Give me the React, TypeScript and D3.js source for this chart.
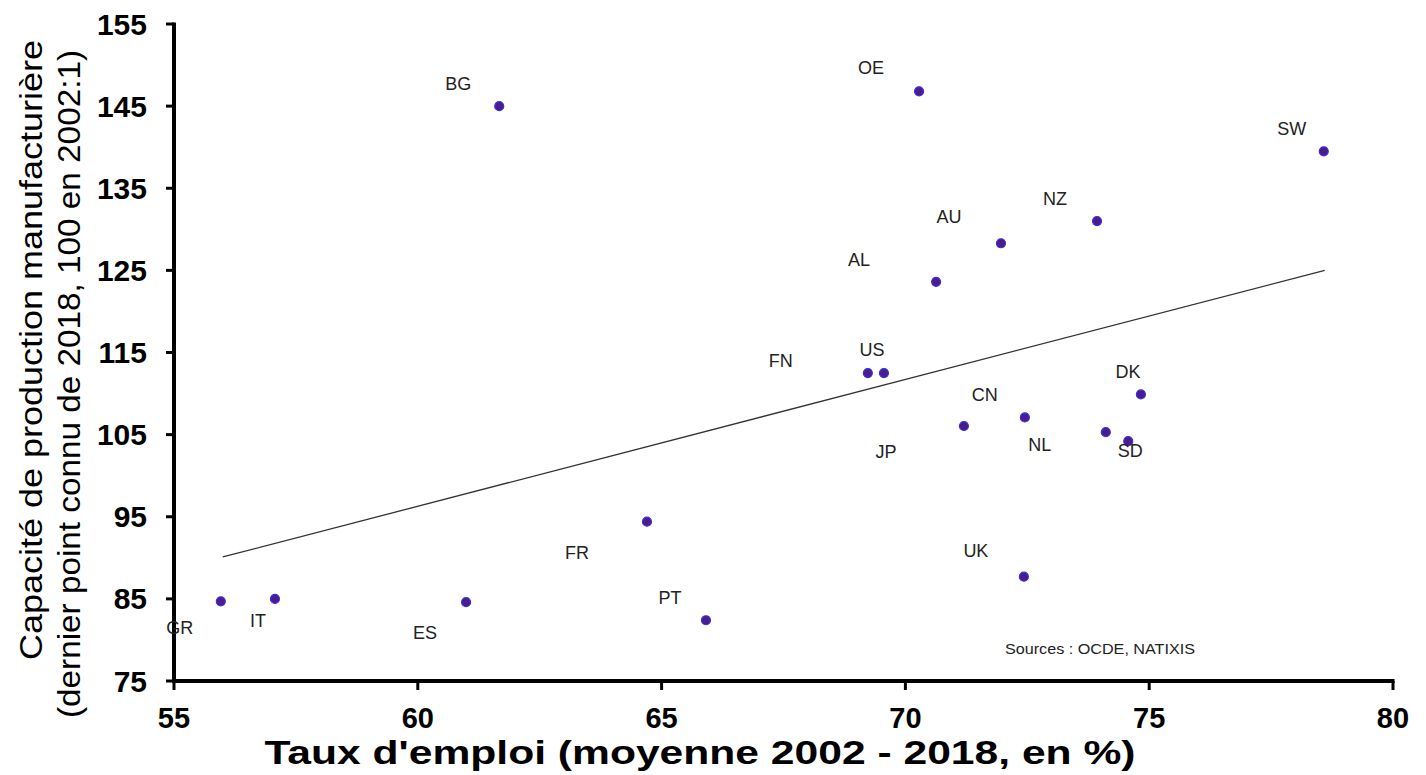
import React from "react";
import * as d3 from "d3";

const countries = ["BG", "OE", "SW", "NZ", "AU", "AL", "FN", "US", "DK", "CN", "JP", "NL", "SD", "UK", "FR", "PT", "ES", "IT", "GR"];
const employment = [61.67, 70.28, 78.58, 73.93, 71.96, 70.63, 69.23, 69.56, 74.83, 72.45, 71.2, 74.11, 74.57, 72.43, 64.7, 65.91, 60.99, 57.07, 55.96];
const capacity = [145.0, 146.8, 139.5, 131.0, 128.3, 123.6, 112.5, 112.5, 109.9, 107.1, 106.05, 105.3, 104.2, 87.7, 94.4, 82.4, 84.6, 85.0, 84.7];
const trendX = [56, 78.6];
const trendY = [90.1, 125.0];
const xTicks = [55, 60, 65, 70, 75, 80];
const yTicks = [75, 85, 95, 105, 115, 125, 135, 145, 155];

// label placement (pixel offsets from each point, layout only)
const labelDx = [-41, -48, -32, -42, -52, -77, -87, -12, -13, -40, -78, -66, 2, -48, -70, -36, -41, -17, -41];
const labelDy = [-22, -23, -22, -22, -26, -22, -12, -23, -22, -22, 26, 13, 10, -26, 31, -22, 31, 22, 27];

export default function App() {
  const W = 1426, H = 775;
  const x = d3.scaleLinear().domain([55, 80]).range([174, 1393]);
  const y = d3.scaleLinear().domain([75, 155]).range([681, 24]);
  const line = d3.line<number>().x((_, i) => x(trendX[i])).y((_, i) => y(trendY[i]));
  const font = "'Liberation Sans', Arial, sans-serif";
  return (
    <svg width={W} height={H} style={{ position: "absolute", left: 0, top: 0, background: "#fff" }} fontFamily={font}>
      <rect width={W} height={H} fill="#fff" />
      <path d={line(trendX) || ""} fill="none" stroke="#333" strokeWidth={1.3} />
      {/* axes */}
      <line x1={x(55)} x2={x(55)} y1={y(155) - 1.5} y2={y(75) + 1.5} stroke="#000" strokeWidth={4} />
      <line x1={x(55) - 2} x2={x(80) + 1.5} y1={y(75)} y2={y(75)} stroke="#000" strokeWidth={4} />
      {yTicks.map((t) => (
        <g key={"y" + t}>
          <line x1={x(55) - 8} x2={x(55)} y1={y(t)} y2={y(t)} stroke="#000" strokeWidth={3} />
          <text x={x(55) - 27} y={y(t)} textAnchor="end" dominantBaseline="central" fontSize={30} fontWeight="bold" fill="#000">{t}</text>
        </g>
      ))}
      {xTicks.map((t) => (
        <g key={"x" + t}>
          <line x1={x(t)} x2={x(t)} y1={y(75)} y2={y(75) + 9} stroke="#000" strokeWidth={3} />
          <text x={x(t)} y={y(75) + 37} textAnchor="middle" dominantBaseline="central" fontSize={29} fontWeight="bold" fill="#000">{t}</text>
        </g>
      ))}
      <text x={700} y={752} textAnchor="middle" dominantBaseline="central" fontSize={33} fontWeight="bold" fill="#000" textLength={871} lengthAdjust="spacingAndGlyphs">Taux d'emploi (moyenne  2002 - 2018, en %)</text>
      <g transform="translate(31,350) rotate(-90)">
        <text x={0} y={0} textAnchor="middle" dominantBaseline="central" fontSize={31} fill="#000" textLength={620} lengthAdjust="spacingAndGlyphs">Capacité de production  manufacturière</text>
      </g>
      <g transform="translate(69,384) rotate(-90)">
        <text x={0} y={0} textAnchor="middle" dominantBaseline="central" fontSize={31} fill="#000" textLength={668} lengthAdjust="spacingAndGlyphs">(dernier point connu de 2018, 100 en 2002:1)</text>
      </g>
      {countries.map((c, i) => (
        <g key={c}>
          <circle cx={x(employment[i])} cy={y(capacity[i])} r={4.5} fill="#4a1c8e" stroke="#3a2fe0" strokeWidth={1.2} />
          <text x={x(employment[i]) + labelDx[i]} y={y(capacity[i]) + labelDy[i]} textAnchor="middle" dominantBaseline="central" fontSize={18} fill="#222">{c}</text>
        </g>
      ))}
      <text x={1100} y={648} textAnchor="middle" dominantBaseline="central" fontSize={15} fill="#222" textLength={190} lengthAdjust="spacingAndGlyphs">Sources : OCDE, NATIXIS</text>
    </svg>
  );
}
